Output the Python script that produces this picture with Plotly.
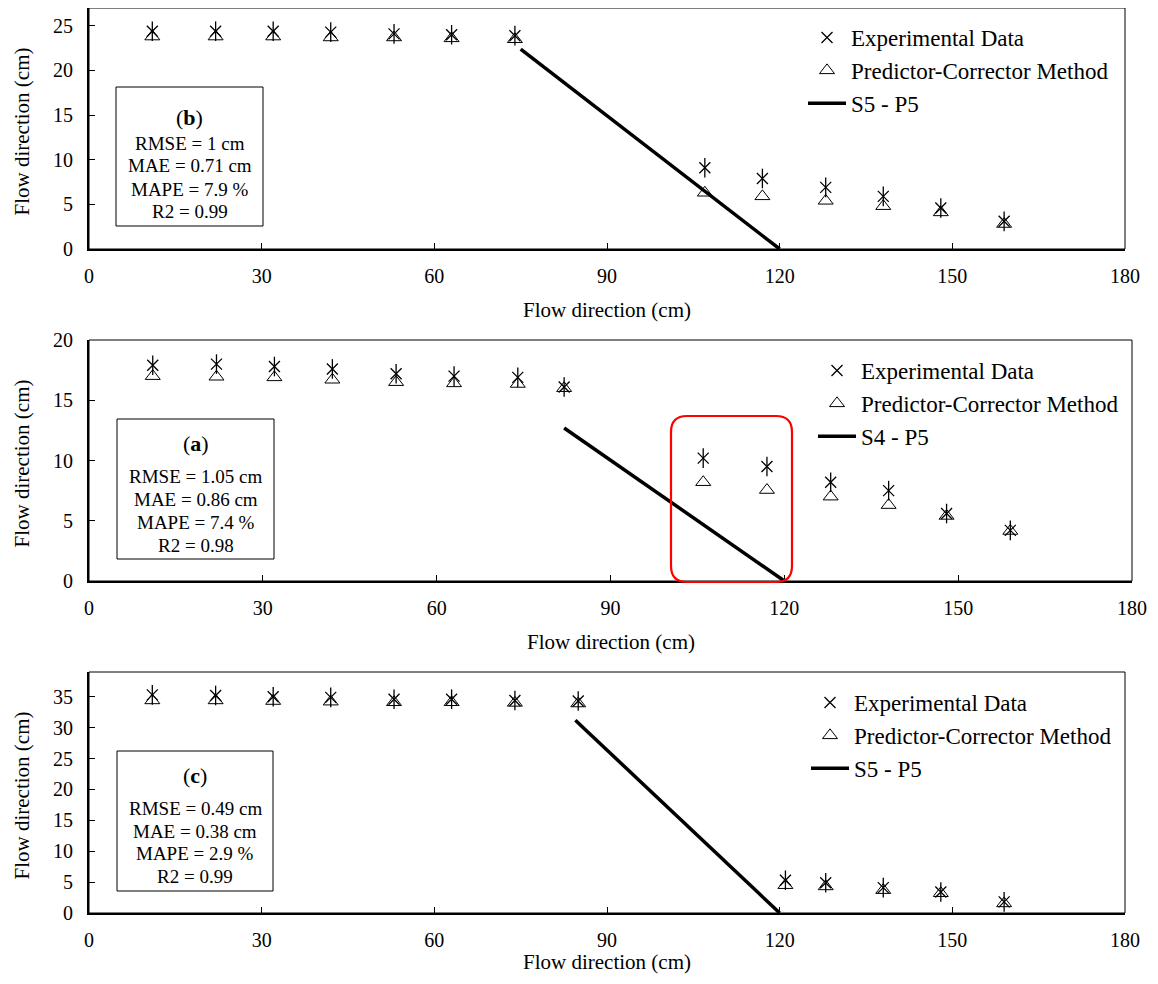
import plotly.graph_objects as go

# The page body has an 8px margin, so the figure is sized to fit inside the window.
OFF = 8
W, H = 1158 - 2 * OFF, 984 - 2 * OFF
FONT = "Liberation Serif"

# ---------------- data ----------------
# Panel (b) - top
b_x = [11, 22, 32, 42, 53, 63, 74, 107, 117, 128, 138, 148, 159]
b_exp = [24.4, 24.4, 24.4, 24.3, 24.1, 24.0, 23.9, 9.1, 7.9, 6.9, 5.9, 4.6, 3.1]
b_pred = [23.8, 23.8, 23.8, 23.7, 23.7, 23.6, 23.5, 6.3, 5.9, 5.4, 4.8, 4.1, 2.8]
b_line_x = [75, 120]
b_line_y = [22.4, 0]
b_stats = ["RMSE = 1 cm", "MAE = 0.71 cm", "MAPE = 7.9 %", "R2 = 0.99"]

# Panel (a) - middle
a_x = [11, 22, 32, 42, 53, 63, 74, 82, 106, 117, 128, 138, 148, 159]
a_exp = [17.9, 18.0, 17.8, 17.6, 17.2, 17.0, 16.9, 16.1, 10.2, 9.5, 8.2, 7.5, 5.6, 4.2]
a_pred = [17.0, 16.95, 16.9, 16.7, 16.5, 16.4, 16.35, 16.0, 8.2, 7.55, 7.0, 6.3, 5.4, 4.15]
a_line_x = [82, 120]
a_line_y = [12.7, 0]
a_stats = ["RMSE = 1.05 cm", "MAE = 0.86 cm", "MAPE = 7.4 %", "R2 = 0.98"]

# Panel (c) - bottom
c_x = [11, 22, 32, 42, 53, 63, 74, 85, 121, 128, 138, 148, 159]
c_exp = [35.3, 35.2, 35.0, 34.9, 34.6, 34.6, 34.4, 34.3, 5.3, 4.9, 4.1, 3.4, 1.8]
c_pred = [34.4, 34.4, 34.3, 34.2, 34.1, 34.1, 34.0, 33.9, 4.5, 4.3, 3.7, 3.2, 1.55]
c_line_x = [84.5, 120]
c_line_y = [31.2, 0]
c_stats = ["RMSE = 0.49 cm", "MAE = 0.38 cm", "MAPE = 2.9 %", "R2 = 0.99"]

x_ticks = [0, 30, 60, 90, 120, 150, 180]


def px(p):
    return (p - OFF) / W


def py(p):
    return 1 - (p - OFF) / H


fig = go.Figure()

panels = [
    ("", b_x, b_exp, b_pred, b_line_x, b_line_y, "S5 - P5", "legend",
     (89, 1125, 8, 249), 27, "b", b_stats, (116, 87, 263, 226), (117, 143, 166, 189, 212), 310),
    ("2", a_x, a_exp, a_pred, a_line_x, a_line_y, "S4 - P5", "legend2",
     (89, 1132, 340, 581), 20, "a", a_stats, (117, 419, 274, 559), (443, 476, 499, 522, 545), 642),
    ("3", c_x, c_exp, c_pred, c_line_x, c_line_y, "S5 - P5", "legend3",
     (89, 1125, 672, 913), 39, "c", c_stats, (117, 751, 273, 891), (775, 808, 831, 853, 876), 962),
]

annotations = []
shapes = []
layout_axes = {}

for (suf, xs, exp, pred, lx, ly, lname, leg, dom, ymax, lab, stats, box, tys, xt_y) in panels:
    xa = "x" + suf
    ya = "y" + suf
    fig.add_trace(go.Scatter(
        x=xs, y=exp, mode="markers", name="Experimental Data", legend=leg,
        legendgroup="exp" + suf, xaxis=xa, yaxis=ya,
        marker=dict(symbol="x-thin-open", size=11, color="black",
                    line=dict(width=1.3, color="black"))))
    fig.add_trace(go.Scatter(
        x=xs, y=exp, mode="markers", showlegend=False, legend=leg,
        legendgroup="exp" + suf, xaxis=xa, yaxis=ya,
        marker=dict(symbol="line-ns-open", size=14, color="black",
                    line=dict(width=1.3, color="black"))))
    fig.add_trace(go.Scatter(
        x=xs, y=pred, mode="markers", name="Predictor-Corrector Method", legend=leg,
        xaxis=xa, yaxis=ya,
        marker=dict(symbol="triangle-up-open", size=13, color="black",
                    line=dict(width=1, color="black"))))
    fig.add_trace(go.Scatter(
        x=lx, y=ly, mode="lines", name=lname, legend=leg, xaxis=xa, yaxis=ya,
        line=dict(color="black", width=3.5)))

    x0, x1, yt, yb = dom
    xkey = "xaxis" + suf
    ykey = "yaxis" + suf
    layout_axes[xkey] = dict(
        domain=[px(x0), px(x1)], anchor=ya, range=[0, 180], tickvals=x_ticks,
        showgrid=False, zeroline=False, showline=True, linecolor="black", linewidth=2,
        ticks="inside", ticklen=6, tickcolor="black", tickwidth=1,
        ticklabelstandoff=8, automargin=False,
        tickfont=dict(family=FONT, size=20, color="black"))
    layout_axes[ykey] = dict(
        domain=[py(yb), py(yt)], anchor=xa, range=[0, ymax], dtick=5,
        showgrid=False, zeroline=False, showline=True, linecolor="black", linewidth=2,
        ticks="inside", ticklen=6, tickcolor="black", tickwidth=1,
        ticklabelstandoff=10, automargin=False,
        tickfont=dict(family=FONT, size=20, color="black"))

    # plot frame
    shapes.append(dict(type="rect", xref=xa + " domain", yref=ya + " domain",
                       x0=0, x1=1, y0=0, y1=1, line=dict(color="black", width=1)))

    # axis titles
    annotations.append(dict(text="Flow direction (cm)", xref="paper", yref="paper",
                            x=px((x0 + x1) / 2), y=py(xt_y), xanchor="center",
                            yanchor="middle", showarrow=False,
                            font=dict(family=FONT, size=21, color="black")))
    annotations.append(dict(text="Flow direction (cm)", xref="paper", yref="paper",
                            x=px(21), y=py((yt + yb) / 2 + 3), xanchor="center",
                            yanchor="middle", showarrow=False, textangle=-90,
                            font=dict(family=FONT, size=21, color="black")))

    # stats box
    bx0, by0, bx1, by1 = box
    shapes.append(dict(type="rect", xref="paper", yref="paper",
                       x0=px(bx0), x1=px(bx1), y0=py(by1), y1=py(by0),
                       line=dict(color="black", width=1), fillcolor="white"))
    cx = px((bx0 + bx1) / 2)
    annotations.append(dict(text="(<b>%s</b>)" % lab, xref="paper", yref="paper",
                            x=cx, y=py(tys[0]), xanchor="center", yanchor="middle",
                            showarrow=False, font=dict(family=FONT, size=22, color="black")))
    for s, ty in zip(stats, tys[1:]):
        annotations.append(dict(text=s, xref="paper", yref="paper",
                                x=cx, y=py(ty), xanchor="center", yanchor="middle",
                                showarrow=False,
                                font=dict(family=FONT, size=19, color="black")))

# red rounded rectangle highlight (middle panel)
rx0, ry0, rx1, ry1, rr = 671, 416, 792, 582, 16


def P(xp, yp):
    return "%.5f,%.5f" % (px(xp), py(yp))


red_path = ("M " + P(rx0 + rr, ry0) + " L " + P(rx1 - rr, ry0) +
            " Q " + P(rx1, ry0) + " " + P(rx1, ry0 + rr) +
            " L " + P(rx1, ry1 - rr) +
            " Q " + P(rx1, ry1) + " " + P(rx1 - rr, ry1) +
            " L " + P(rx0 + rr, ry1) +
            " Q " + P(rx0, ry1) + " " + P(rx0, ry1 - rr) +
            " L " + P(rx0, ry0 + rr) +
            " Q " + P(rx0, ry0) + " " + P(rx0 + rr, ry0) + " Z")
shapes.append(dict(type="path", xref="paper", yref="paper", path=red_path,
                   line=dict(color="#ff0000", width=2.2)))

leg_common = dict(font=dict(family=FONT, size=23, color="black"),
                  bgcolor="rgba(0,0,0,0)", borderwidth=0, xanchor="left",
                  yanchor="top", itemwidth=38, tracegroupgap=0)

fig.update_layout(
    width=W, height=H,
    autosize=False,
    margin=dict(l=0, r=0, t=0, b=0, pad=0, autoexpand=False),
    paper_bgcolor="white", plot_bgcolor="white",
    showlegend=True,
    legend=dict(x=px(803), y=py(16), **leg_common),
    legend2=dict(x=px(813), y=py(349), **leg_common),
    legend3=dict(x=px(806), y=py(681), **leg_common),
    annotations=annotations,
    shapes=shapes,
    **layout_axes,
)

fig.write_html("out.html")
